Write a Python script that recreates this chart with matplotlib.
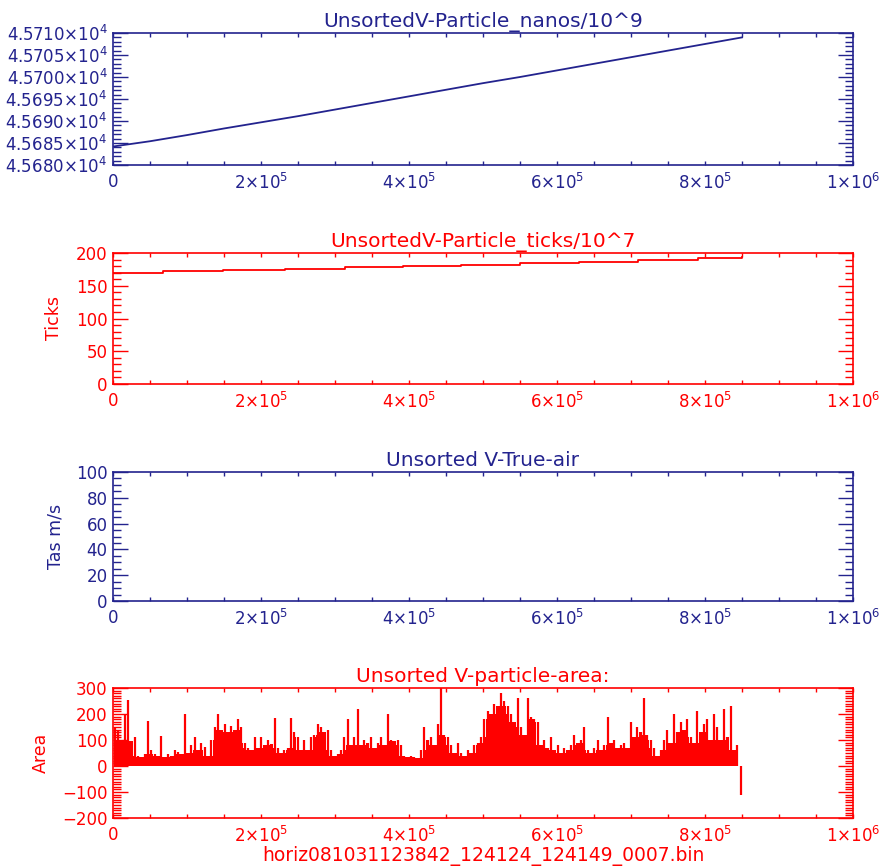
import numpy as np
import matplotlib
matplotlib.use("Agg")
import matplotlib.pyplot as plt
from matplotlib.ticker import MultipleLocator, FixedLocator

plt.rcParams['font.family'] = ['DejaVu Sans']
plt.rcParams['mathtext.default'] = 'regular'

NAVY = '#23238e'
RED = '#ff0000'

# panel 1: particle time in nanos/1e9
nanos_x = [0, 50000, 100000, 150000, 200000, 250000, 300000, 350000, 400000,
           450000, 500000, 550000, 600000, 650000, 700000, 750000, 800000, 850000]
nanos_vals = [45684.2, 45685.4, 45686.8, 45688.3, 45689.7, 45691.1, 45692.6, 45694.1,
              45695.6, 45697.1, 45698.6, 45700.0, 45701.5, 45703.0, 45704.5, 45706.0,
              45707.5, 45709.0]

# panel 2: ticks/1e7, a slow staircase
ticks_x = [0, 68000, 148000, 232000, 313000, 392000, 470000, 550000, 630000, 710000, 790000, 850000]
ticks_vals = [170, 172, 174, 176, 178, 180, 182, 184.5, 187, 189.5, 192, 194]

# panel 4: particle area, one value per sample
area_step = 4500
area_vals = [150, 140, 100, 200, 255, 95, 110, 40, 35, 45, 175, 60, 45, 40, 115, 35, 45, 40,
             60, 55, 45, 200, 50, 80, 110, 60, 90, 75, 40, 100, 150, 200, 140, 160, 130, 155,
             140, 180, 150, 90, 70, 60, 110, 70, 110, 80, 100, 85, 185, 70, 50, 60, 70, 185,
             130, 110, 60, 100, 60, 110, 120, 160, 150, 130, 140, 60, 40, 45, 60, 110, 180,
             80, 110, 220, 80, 100, 90, 110, 70, 90, 110, 80, 200, 100, 95, 100, 80, 40, 35,
             40, 35, 30, 60, 150, 100, 110, 80, 160, 300, 120, 110,
             80, 50, 90, 50, 40, 60, 50, 80, 90, 110, 180, 210, 200, 240, 230, 280, 250, 230,
             200, 170, 260, 150, 120, 260, 190, 180, 170, 80, 100, 70, 110, 60, 80, 50, 70,
             60, 80, 120, 90, 100, 150, 60, 50, 70, 100, 60, 80, 190, 90, 100, 70, 80, 90, 70,
             170, 110, 150, 130, 260, 120, 100, 70, 40, 60, 100, 140, 90, 200, 130, 170, 140,
             180, 110, 90, 210, 130, 160, 180, 100, 200, 150, 100, 220, 110, 230, 60, 80, -110]

x_ticks = [0, 200000, 400000, 600000, 800000, 1000000]
x_labels = ['0', '2×10$^5$', '4×10$^5$', '6×10$^5$', '8×10$^5$', '1×10$^6$']

fig = plt.figure(figsize=(8.81, 8.67), dpi=100)
L, W = 113 / 881, 740 / 881
boxes = [(33, 165), (253, 384), (472, 601), (688, 818)]
axes = [fig.add_axes([L, 1 - b / 867, W, (b - t) / 867]) for t, b in boxes]


def style(ax, color, ymajor, yminor):
    for s in ax.spines.values():
        s.set_color(color)
        s.set_linewidth(1.2)
    ax.set_xlim(0, 1000000)
    ax.xaxis.set_major_locator(FixedLocator(x_ticks))
    ax.set_xticklabels(x_labels)
    ax.xaxis.set_minor_locator(MultipleLocator(50000))
    ax.yaxis.set_major_locator(MultipleLocator(ymajor))
    ax.yaxis.set_minor_locator(MultipleLocator(yminor))
    ax.tick_params(which='both', direction='in', top=True, right=True, colors=color,
                   labelsize=12, width=1.0)
    ax.tick_params(axis='x', which='major', length=3, pad=6)
    ax.tick_params(axis='x', which='minor', length=3)
    ax.tick_params(axis='y', which='major', length=11, pad=4)
    ax.tick_params(axis='y', which='minor', length=5.5)


# panel 1
ax = axes[0]
ax.plot(nanos_x, nanos_vals, color=NAVY, lw=1.3)
style(ax, NAVY, 5, 1)
ax.set_ylim(45680, 45710)
ax.set_yticks([45680, 45685, 45690, 45695, 45700, 45705, 45710])
ax.set_yticklabels(['%.4f×10$^4$' % (v / 1e4) for v in [45680, 45685, 45690, 45695, 45700, 45705, 45710]])
ax.set_title('UnsortedV-Particle_nanos/10^9', color=NAVY, fontsize=14.5, pad=4)

# panel 2
ax = axes[1]
ax.step(ticks_x, ticks_vals, where='post', color=RED, lw=1.3)
style(ax, RED, 50, 10)
ax.set_ylim(0, 200)
ax.set_title('UnsortedV-Particle_ticks/10^7', color=RED, fontsize=14.5, pad=4)
ax.set_ylabel('Ticks', color=RED, fontsize=12.5)
ax.yaxis.set_label_coords(-0.067, 0.5)

# panel 3 (no data)
ax = axes[2]
style(ax, NAVY, 20, 5)
ax.set_ylim(0, 100)
ax.set_title('Unsorted V-True-air', color=NAVY, fontsize=14.5, pad=4)
ax.set_ylabel('Tas m/s', color=NAVY, fontsize=12.5)
ax.yaxis.set_label_coords(-0.065, 0.5)

# panel 4: thin spikes on a solid base
ax = axes[3]
area_x = np.arange(len(area_vals)) * area_step + area_step / 2
vals = np.array(area_vals, dtype=float)
base = np.minimum(np.minimum(vals, np.roll(vals, 1)), np.roll(vals, -1))
base = np.clip(base, 0, None)
ax.fill_between(area_x[:-1], 0, base[:-1], color=RED, linewidth=0, step='mid')
ax.vlines(area_x, 0, vals, color=RED, linewidth=1.6)
style(ax, RED, 100, 10)
ax.set_ylim(-200, 300)
ax.set_title('Unsorted V-particle-area:', color=RED, fontsize=14.5, pad=4)
ax.set_ylabel('Area', color=RED, fontsize=12.5)
ax.yaxis.set_label_coords(-0.085, 0.5)
ax.set_xlabel('horiz081031123842_124124_124149_0007.bin', color=RED, fontsize=13.5, labelpad=0)

fig.savefig('out.png', dpi=100)
